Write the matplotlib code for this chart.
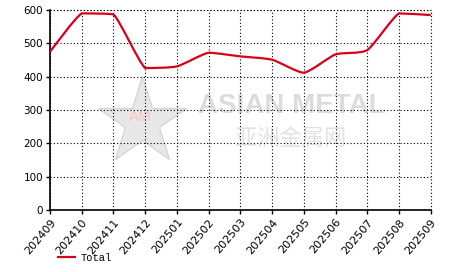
import numpy as np
import matplotlib
matplotlib.use("Agg")
import matplotlib.pyplot as plt
from matplotlib.path import Path
from matplotlib.patches import PathPatch

months = ["202409", "202410", "202411", "202412", "202501", "202502", "202503",
          "202504", "202505", "202506", "202507", "202508", "202509"]
total = [475, 590, 587, 426, 431, 472, 461, 451, 412, 467, 480, 590, 585]
y_ticks = [0, 100, 200, 300, 400, 500, 600]
line_color = "#d9001b"


def smooth_path(xs, ys, k=0.1):
    # straight runs with rounded corners, no overshoot past the points
    pts = np.column_stack([xs, ys]).astype(float)
    n = len(pts)
    tang = np.zeros_like(pts)
    for i in range(n):
        a = pts[max(i - 1, 0)]
        b = pts[min(i + 1, n - 1)]
        tang[i] = (b - a) * k
    verts = [tuple(pts[0])]
    codes = [Path.MOVETO]
    for i in range(n - 1):
        p0, p1 = pts[i], pts[i + 1]
        lo, hi = min(p0[1], p1[1]), max(p0[1], p1[1])
        c1 = p0 + tang[i]
        c2 = p1 - tang[i + 1]
        c1[1] = np.clip(c1[1], lo, hi)
        c2[1] = np.clip(c2[1], lo, hi)
        verts += [tuple(c1), tuple(c2), tuple(p1)]
        codes += [Path.CURVE4] * 3
    return Path(verts, codes)


fig = plt.figure(figsize=(4.66, 2.72), dpi=100)
ax = fig.add_axes([0.1073, 0.228, 0.8170, 0.735])

x = np.arange(len(months))
ax.set_xlim(0, len(months) - 1)
ax.set_ylim(0, 600)

# watermark
ax.plot([0.242], [0.44], marker="*", markersize=66, color="#e8e8e8",
        markeredgecolor="#d6d6d6", markeredgewidth=1,
        transform=ax.transAxes, zorder=0)
ax.text(0.238, 0.465, "AM", transform=ax.transAxes, color="#f8c4c4",
        fontsize=11, ha="center", va="center", zorder=0,
        family="Liberation Sans")
ax.text(0.388, 0.52, "ASIAN METAL", transform=ax.transAxes, color="#dcdcdc",
        fontsize=20, fontweight="bold", ha="left", va="center", zorder=0,
        family="Liberation Sans")
ax.text(0.485, 0.36, "亚洲金属网", transform=ax.transAxes, color="#e2e2e2",
        fontsize=16, ha="left", va="center", zorder=0,
        family=["Noto Sans CJK SC", "DejaVu Sans"])

ax.add_patch(PathPatch(smooth_path(x, total), facecolor="none",
                       edgecolor=line_color, linewidth=1.6, zorder=3))
ax.plot([], [], color=line_color, linewidth=1.6, label="Total")

ax.set_xticks(x)
ax.set_xticklabels(months, rotation=50, ha="right", rotation_mode="anchor",
                   fontsize=8)
ax.set_yticks(y_ticks)
ax.set_yticklabels([str(v) for v in y_ticks], fontsize=7.5)
ax.tick_params(length=3, width=1, color="black", pad=2)

ax.grid(True, color="black", linestyle=(0, (1, 2)), linewidth=0.8)
ax.spines["top"].set_visible(False)
ax.spines["right"].set_visible(False)
for s in ("left", "bottom"):
    ax.spines[s].set_linewidth(1.2)
# dotted edge on top/right like the grid
ax.axhline(600, color="black", linestyle=(0, (1, 2)), linewidth=0.8, clip_on=False)
ax.axvline(len(months) - 1, color="black", linestyle=(0, (1, 2)), linewidth=0.8,
           clip_on=False)

fig.legend(loc="lower left", bbox_to_anchor=(0.105, 0.0), frameon=False,
           prop={"family": "Liberation Mono", "size": 7.5},
           handlelength=1.6, handletextpad=0.5)

fig.savefig("out.png", dpi=100)
